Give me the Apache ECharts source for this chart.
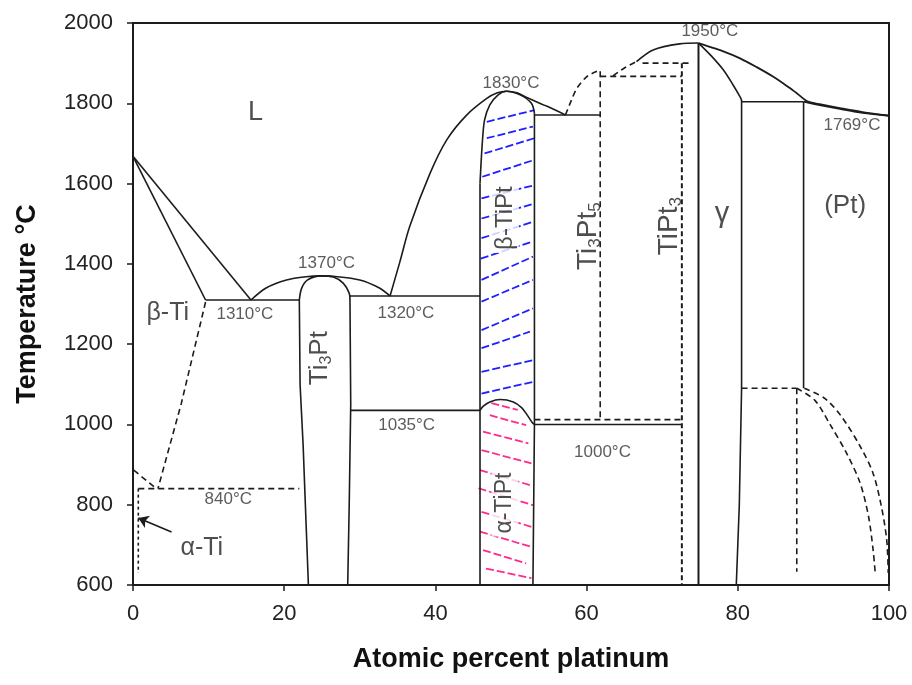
<!DOCTYPE html>
<html>
<head>
<meta charset="utf-8">
<script src="https://cdn.jsdelivr.net/npm/echarts@6/dist/echarts.min.js"></script>
<style>
  html, body { margin: 0; padding: 0; background: #fff; }
  #chart { width: 912px; height: 685px; }
</style>
</head>
<body>
<div id="chart"></div>
<script>
// ---- Ti–Pt phase diagram ------------------------------------------------
// Axis ticks
const xTicks = [0, 20, 40, 60, 80, 100];
const yTicks = [600, 800, 1000, 1200, 1400, 1600, 1800, 2000];

// Invariant temperatures (°C)
const tTiMelt = 1668;
const tEutTi = 1310;
const tTi3PtMax = 1370;
const tEutTiPt = 1320;
const tEutdTiPt = 1035;
const tEutdTi = 840;
const tTiPtMax = 1830;
const tPeri1771 = 1771;
const tGammaMax = 1950;
const tPtMelt = 1769;
const tEutdPt = 1000;
const tPeriPt = 1804;

// Ti-rich side (solid)
const liquidusTi = [[0, tTiMelt], [15.6, tEutTi]];
const solidusBetaTi = [[0, tTiMelt], [9.6, tEutTi]];
const eutectic1310 = [[9.6, tEutTi], [22.0, tEutTi]];
const liquidusTi3Pt = [[15.6, tEutTi], [17.6, 1340], [20.3, 1360], [22.9, 1368], [24.9, tTi3PtMax], [26.5, 1369], [30.0, 1360], [32.6, 1340], [34.0, tEutTiPt]];
const ti3PtTop = [[22.0, tEutTi], [22.3, 1339], [23.1, 1360], [24.9, tTi3PtMax], [26.5, 1367], [27.8, 1352], [28.6, 1327], [28.7, tEutTi]];
const ti3PtLeft = [[22.0, tEutTi], [22.1, 1100], [22.5, 950], [22.9, 750], [23.2, 600]];
const ti3PtRight = [[28.7, tEutTi], [28.8, 1050], [28.6, 800], [28.4, 600]];
const eutectic1320 = [[28.7, tEutTiPt], [45.9, tEutTiPt]];
const eutectoid1035 = [[28.8, tEutdTiPt], [45.9, tEutdTiPt]];

// TiPt
const liquidusTiPt = [[34.0, tEutTiPt], [35.3, 1405], [36.6, 1493], [39.3, 1626], [41.5, 1709], [44.1, 1770], [46.8, 1812], [48.2, 1826], [49.4, tTiPtMax], [50.8, 1826], [52.0, 1815], [54.7, 1793], [57.2, tPeri1771]];
const tiPtLeft = [[45.9, 600], [45.9, 1600]];
const tiPtTop = [[45.9, 1600], [46.2, 1700], [46.5, 1758], [47.2, 1796], [48.3, 1821], [49.4, tTiPtMax], [51.2, 1821], [52.7, 1800], [53.1, 1775]];
const tiPtRight = [[53.1, 1775], [53.1, tEutdPt], [52.9, 600]];
const alphaTiPtDome = [[45.9, tEutdTiPt], [46.3, 1045], [47.2, 1056], [48.6, 1062], [50.3, 1056], [51.4, 1042], [52.2, 1022], [52.8, 1005], [53.1, tEutdPt]];
const peritectic1771 = [[53.1, tPeri1771], [61.8, tPeri1771]];
const eutectoid1000 = [[53.1, tEutdPt], [72.6, tEutdPt]];

// Ti3Pt5 / TiPt3 (dashed)
const ti3Pt5Dome = [[57.2, tPeri1771], [58.0, 1808], [58.7, 1837], [60.0, 1866], [61.3, 1879], [61.8, 1880]];
const ti3Pt5Left = [[61.8, 1880], [61.8, 1012]];
const ti3Pt5Base = [[53.1, 1012], [72.6, 1012]];
const ti3Pt5Top = [[61.8, 1867], [72.6, 1867]];
const tiPt3Top = [[67.4, 1900], [73.7, 1900]];
const tiPt3Side = [[72.6, 1900], [72.6, 600]];
const liquidusDashed = [[63.5, 1868], [65.0, 1888], [66.6, 1904]];

// gamma and (Pt) (solid)
const liquidusGammaLeft = [[66.6, 1904], [68.8, 1933], [72.3, 1948], [74.8, tGammaMax]];
const gammaLeft = [[74.8, tGammaMax], [74.8, 600]];
const gammaSolidus = [[74.8, tGammaMax], [76.4, 1920], [78.1, 1883], [79.4, 1845], [80.3, 1816], [80.5, 1808]];
const gammaRight = [[80.5, 1808], [80.5, 1090], [80.2, 800], [79.8, 600]];
const liquidusPt = [[74.8, tGammaMax], [75.9, 1943], [78.0, 1930], [80.3, 1912], [82.5, 1890], [84.7, 1866], [86.5, 1843], [87.8, 1825], [89.3, tPeriPt], [91.0, 1797], [93.5, 1788], [96.5, 1778], [100, tPtMelt]];
const solidusPt = [[88.7, tPeriPt], [91.0, 1795], [93.5, 1786], [96.5, 1776], [100, tPtMelt]];
const peritectic1804 = [[80.5, tPeriPt], [88.7, tPeriPt]];
const ptBoundary = [[88.7, tPeriPt], [88.7, 1090]];

// Ordering reactions in (Pt) (dashed)
const ordering1090 = [[80.5, 1090], [87.8, 1090]];
const orderingVertical = [[87.8, 1090], [87.8, 633]];
const orderingCurveA = [[87.8, 1090], [90.2, 1060], [92.2, 1000], [94.4, 928], [96.2, 853], [97.3, 770], [97.9, 687], [98.2, 625]];
const orderingCurveB = [[88.8, 1090], [91.5, 1065], [93.7, 1020], [96.2, 945], [97.9, 878], [99.0, 795], [99.7, 712], [99.9, 630]];

// alpha/beta Ti (dashed)
const betaTransus = [[9.6, 1305], [6.4, 1053], [3.3, tEutdTi]];
const alphaTransus = [[0.1, 886], [3.1, tEutdTi]];
const eutectoid840 = [[0.7, tEutdTi], [22.0, tEutdTi]];
const alphaTiSolvus = [[0.7, tEutdTi], [0.7, 630]];

// Hatching of the beta-TiPt and alpha-TiPt fields
const betaHatch = [
  [[46.8, 1754], [53.1, 1783]], [[46.8, 1713], [52.9, 1742]], [[46.5, 1675], [53.1, 1713]],
  [[46.2, 1617], [53.1, 1659]], [[46.1, 1563], [53.1, 1596]], [[46.1, 1513], [52.9, 1549]],
  [[46.1, 1464], [52.8, 1504]], [[46.0, 1413], [52.9, 1456]], [[46.1, 1360], [52.9, 1418]],
  [[46.1, 1306], [52.9, 1360]], [[46.1, 1235], [52.9, 1289]], [[46.1, 1190], [52.5, 1231]],
  [[46.1, 1131], [52.9, 1160]], [[46.1, 1077], [52.9, 1106]]
];
const alphaHatch = [
  [[47.4, 1053], [50.9, 1036]], [[47.2, 1023], [52.0, 998]], [[46.3, 982], [52.3, 953]],
  [[46.1, 936], [52.7, 903]], [[45.9, 886], [52.5, 849]], [[45.7, 841], [52.9, 799]],
  [[46.1, 782], [52.7, 745]], [[45.9, 733], [52.7, 695]], [[46.3, 687], [52.0, 654]],
  [[46.7, 641], [52.7, 617]]
];

// Arrow pointing at the alpha-Ti field
const alphaTiArrow = [[5.1, 732], [0.7, 767]];

// Text labels: [value or text, x, T]
const tempLabels = [
  [tEutTi, 14.8, 1275], [tTi3PtMax, 25.6, 1402], [tEutTiPt, 36.1, 1277],
  [tEutdTiPt, 36.2, 998], [tEutdTi, 12.6, 814], [tTiPtMax, 50.0, 1851],
  [tGammaMax, 76.3, 1980], [tPtMelt, 95.1, 1746], [tEutdPt, 62.1, 931]
];
const phaseLabels = [['L', 16.2, 1776, 27], ['β-Ti', 4.6, 1278, 25], ['α-Ti', 9.1, 692, 25], ['γ', 77.9, 1523, 29], ['(Pt)', 94.2, 1544, 26]];
const compoundLabels = [
  ['{n|Ti}{s|3}{n|Pt}', 24.7, 1165, false, 26],
  ['{n|β-TiPt}', 49.2, 1514, true, 24],
  ['{n|α-TiPt}', 49.2, 804, true, 23],
  ['{n|Ti}{s|3}{n|Pt}{s|5}', 60.2, 1469, false, 28],
  ['{n|TiPt}{s|3}', 70.9, 1494, false, 28]
];

// ---- styling -------------------------------------------------------------
const INK = '#1c1c1c';
const FONT = 'Liberation Sans, Arial, sans-serif';
const series = [];

function path(data, opt) {
  opt = opt || {};
  series.push({
    type: 'line', data: data, symbol: 'none', showSymbol: false, silent: true,
    smooth: opt.smooth || false, z: 3, animation: false,
    lineStyle: { color: INK, width: opt.width || 1.6, type: opt.dash ? [6, 4] : 'solid' }
  });
}

// solid boundaries
[liquidusTi, solidusBetaTi, eutectic1310, ti3PtLeft, ti3PtRight, eutectic1320, eutectoid1035,
 tiPtLeft, tiPtRight, peritectic1771, eutectoid1000, gammaRight, peritectic1804, ptBoundary]
  .forEach(d => path(d));
[liquidusTi3Pt, ti3PtTop, liquidusTiPt, tiPtTop, alphaTiPtDome, liquidusGammaLeft, gammaSolidus]
  .forEach(d => path(d, { smooth: 0.3 }));
path(liquidusPt, { smooth: 0.3, width: 1.8 });
path(solidusPt, { smooth: 0.3, width: 1.8 });
path(gammaLeft, { width: 2 });

// dashed boundaries
[ti3Pt5Left, ti3Pt5Base, ti3Pt5Top, tiPt3Top, ordering1090, orderingVertical,
 betaTransus, alphaTransus, eutectoid840]
  .forEach(d => path(d, { dash: true }));
[ti3Pt5Dome, liquidusDashed, orderingCurveA, orderingCurveB].forEach(d => path(d, { dash: true, smooth: 0.3 }));
series.push({
  type: 'line', data: tiPt3Side, symbol: 'none', silent: true, z: 3, animation: false,
  lineStyle: { color: INK, width: 2, type: [5, 3] }
});
series.push({
  type: 'line', data: alphaTiSolvus, symbol: 'none', silent: true, z: 3, animation: false,
  lineStyle: { color: INK, width: 1.6, type: [3, 3] }
});

// hatching
function hatch(segs, color) {
  series.push({
    type: 'lines', coordinateSystem: 'cartesian2d', silent: true, z: 2, animation: false,
    data: segs.map(s => ({ coords: s })),
    lineStyle: { color: color, width: 1.8, type: [8, 3], opacity: 1 }
  });
}
hatch(betaHatch, '#1f1fff');
hatch(alphaHatch, '#ff2a8c');

// arrow
series.push({
  type: 'lines', coordinateSystem: 'cartesian2d', silent: true, z: 4, animation: false,
  data: [{ coords: alphaTiArrow }],
  symbol: ['none', 'arrow'], symbolSize: 10,
  lineStyle: { color: INK, width: 1.6, opacity: 1 }
});

// text labels
const labelData = [];
tempLabels.forEach(([t, x, y]) => labelData.push({
  value: [x, y],
  label: { formatter: t + '°C', fontSize: 17, color: '#333' }
}));
phaseLabels.forEach(([s, x, y, fs]) => labelData.push({
  value: [x, y],
  label: { formatter: s, fontSize: fs, color: '#222' }
}));
compoundLabels.forEach(([s, x, y, masked, fs]) => labelData.push({
  value: [x, y],
  label: {
    formatter: s, rotate: 90,
    backgroundColor: masked ? '#fff' : 'transparent', padding: masked ? [0, 3] : 0,
    rich: {
      n: { fontSize: fs, color: '#222', fontFamily: FONT, lineHeight: fs + 4, verticalAlign: 'middle' },
      s: { fontSize: Math.round(fs * 0.62), color: '#222', fontFamily: FONT, lineHeight: fs + 4, verticalAlign: 'bottom' }
    }
  }
}));
series.push({
  type: 'scatter', data: labelData, symbolSize: 1, silent: true, z: 10, animation: false,
  itemStyle: { color: 'rgba(0,0,0,0)' },
  label: { show: true, position: 'inside', fontFamily: FONT, color: '#222' }
});

const chart = echarts.init(document.getElementById('chart'), null, { renderer: 'canvas' });
chart.setOption({
  animation: false,
  backgroundColor: '#fff',
  textStyle: { fontFamily: FONT },
  grid: {
    left: 133, right: 23, top: 23, bottom: 100,
    show: true, borderColor: INK, borderWidth: 2,
    containLabel: false, outerBoundsMode: 'none'
  },
  xAxis: {
    type: 'value', min: xTicks[0], max: xTicks[xTicks.length - 1], interval: 20,
    name: 'Atomic percent platinum', nameLocation: 'middle', nameGap: 61,
    nameTextStyle: { fontSize: 27, fontWeight: 'bold', color: '#111', fontFamily: FONT },
    axisLine: { show: true, lineStyle: { color: INK, width: 2 } },
    axisTick: { show: true, length: 6, lineStyle: { color: INK, width: 1.5 } },
    axisLabel: { fontSize: 22, color: '#222', margin: 18, fontFamily: FONT, formatter: v => String(v) },
    splitLine: { show: false }
  },
  yAxis: {
    type: 'value', min: yTicks[0], max: yTicks[yTicks.length - 1], interval: 200,
    name: 'Temperature °C', nameLocation: 'middle', nameGap: 92,
    nameTextStyle: { fontSize: 27, fontWeight: 'bold', color: '#111', fontFamily: FONT },
    axisLine: { show: true, lineStyle: { color: INK, width: 2 } },
    axisTick: { show: true, length: 6, lineStyle: { color: INK, width: 1.5 } },
    axisLabel: { fontSize: 22, color: '#222', margin: 20, fontFamily: FONT, formatter: v => String(v) },
    splitLine: { show: false }
  },
  series: series
});
</script>
</body>
</html>
